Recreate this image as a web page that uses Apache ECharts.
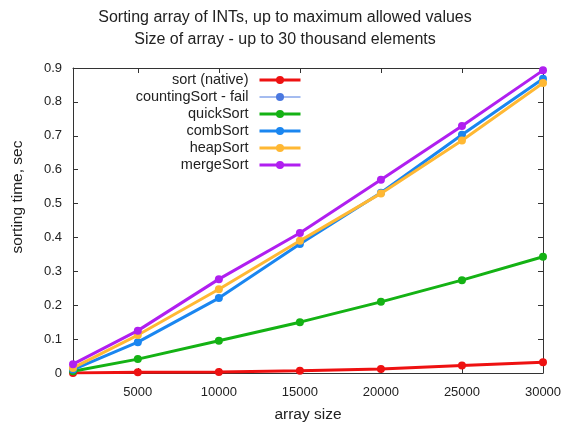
<!DOCTYPE html>
<html>
<head>
<meta charset="utf-8">
<script src="https://cdn.jsdelivr.net/npm/echarts@6/dist/echarts.min.js"></script>
<style>
html,body{margin:0;padding:0;background:#fff;}
#chart{width:570px;height:428px;}
</style>
</head>
<body>
<div id="chart"></div>
<script>
var sizes = [1000, 5000, 10000, 15000, 20000, 25000, 30000];
var xTicks = [5000, 10000, 15000, 20000, 25000, 30000];
var sortNative = [0.000, 0.002, 0.003, 0.007, 0.012, 0.022, 0.032];
var countingSort = [];
var quickSort = [0.005, 0.041, 0.095, 0.150, 0.210, 0.274, 0.343];
var combSort = [0.010, 0.091, 0.221, 0.381, 0.532, 0.703, 0.868];
var heapSort = [0.015, 0.112, 0.247, 0.390, 0.530, 0.686, 0.856];
var mergeSort = [0.026, 0.125, 0.277, 0.413, 0.570, 0.729, 0.893];
var seriesNames = ['sort (native)', 'countingSort - fail', 'quickSort', 'combSort', 'heapSort', 'mergeSort'];
var seriesColors = ['#ee1111', '#4a78e0', '#14b214', '#1a86f0', '#ffb833', '#b01ff0'];
var seriesValues = [sortNative, countingSort, quickSort, combSort, heapSort, mergeSort];

var FONT = 'Liberation Sans, Arial, sans-serif';
var AXC = '#333';

function pairs(vals) {
  return vals.map(function (v, i) { return [sizes[i], v]; });
}

var series = seriesNames.map(function (name, i) {
  var thin = (i === 1);
  return {
    name: name,
    type: 'line',
    data: pairs(seriesValues[i]),
    symbol: 'circle',
    symbolSize: thin ? 4 : 8,
    showAllSymbol: true,
    lineStyle: { width: thin ? 1 : 3, color: seriesColors[i] },
    itemStyle: { color: seriesColors[i] },
    emphasis: { disabled: true },
    z: 2 + i
  };
});

var legendData = seriesNames.map(function (name, i) {
  return { name: name, lineStyle: { width: i === 1 ? 1 : 3 } };
});

var chart = echarts.init(document.getElementById('chart'), null, { renderer: 'canvas' });
chart.setOption({
  animation: false,
  backgroundColor: '#fff',
  title: {
    text: 'Sorting array of INTs, up to maximum allowed values\nSize of array - up to 30 thousand elements',
    left: 'center',
    top: 2,
    textStyle: { fontFamily: FONT, fontSize: 16, fontWeight: 'normal', color: '#222', lineHeight: 22 }
  },
  legend: {
    orient: 'vertical',
    align: 'right',
    right: 268,
    top: 72,
    padding: 0,
    itemWidth: 41,
    itemHeight: 10,
    itemGap: 1,
    textStyle: { fontFamily: FONT, fontSize: 14.5, color: '#222', lineHeight: 16, padding: [0, 6, 0, 0] },
    data: legendData
  },
  grid: { left: 73, right: 27, top: 68, bottom: 55, containLabel: false },
  xAxis: [{
    type: 'value',
    min: 1000,
    max: 30000,
    name: 'array size',
    nameLocation: 'middle',
    nameGap: 34,
    nameTextStyle: { fontFamily: FONT, fontSize: 15.5, color: '#222' },
    axisLine: { show: true, onZero: false, lineStyle: { color: AXC, width: 1 } },
    axisTick: { show: true, inside: true, length: 5, customValues: xTicks, lineStyle: { color: AXC } },
    axisLabel: { customValues: xTicks, margin: 13, fontFamily: FONT, fontSize: 13, color: '#222',
      formatter: function (v) { return String(v); } },
    splitLine: { show: false }
  }, {
    type: 'value',
    position: 'top',
    min: 1000,
    max: 30000,
    axisLine: { show: true, onZero: false, lineStyle: { color: AXC, width: 1 } },
    axisTick: { show: true, inside: true, length: 5, customValues: xTicks, lineStyle: { color: AXC } },
    axisLabel: { show: false },
    splitLine: { show: false }
  }],
  yAxis: [{
    type: 'value',
    min: 0,
    max: 0.9,
    interval: 0.1,
    axisLine: { show: true, onZero: false, lineStyle: { color: AXC, width: 1 } },
    axisTick: { show: true, inside: true, length: 5, lineStyle: { color: AXC } },
    axisLabel: { margin: 11, fontFamily: FONT, fontSize: 13, color: '#222' },
    splitLine: { show: false }
  }, {
    type: 'value',
    position: 'right',
    min: 0,
    max: 0.9,
    interval: 0.1,
    axisLine: { show: true, onZero: false, lineStyle: { color: AXC, width: 1 } },
    axisTick: { show: true, inside: true, length: 5, lineStyle: { color: AXC } },
    axisLabel: { show: false },
    splitLine: { show: false }
  }],
  graphic: [{
    type: 'text',
    x: 18,
    y: 197,
    rotation: Math.PI / 2,
    style: {
      text: 'sorting time, sec',
      font: '15.5px ' + FONT,
      fill: '#222',
      align: 'center',
      verticalAlign: 'middle'
    }
  }],
  series: series
});
</script>
</body>
</html>
